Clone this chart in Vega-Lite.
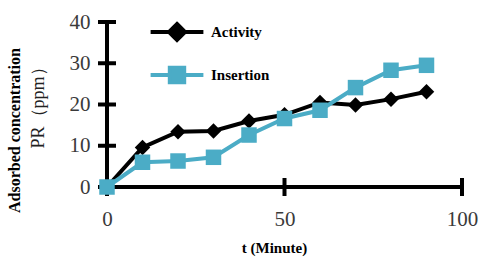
{
  "$schema": "https://vega.github.io/schema/vega-lite/v6.json",
  "autosize": "none",
  "width": 355,
  "height": 165,
  "padding": {"left": 107, "top": 22, "right": 17, "bottom": 70},
  "background": "white",
  "title": {"text": "Adsorbed concentration", "orient": "left", "font": "Liberation Serif", "fontSize": 16, "fontWeight": "bold", "color": "black", "offset": 6, "anchor": "middle", "dx": -26},
  "datasets": {
    "series": [
      {"t": 0, "v": 0, "s": "Activity"},
      {"t": 10, "v": 9.6, "s": "Activity"},
      {"t": 20, "v": 13.4, "s": "Activity"},
      {"t": 30, "v": 13.6, "s": "Activity"},
      {"t": 40, "v": 16.0, "s": "Activity"},
      {"t": 50, "v": 17.5, "s": "Activity"},
      {"t": 60, "v": 20.5, "s": "Activity"},
      {"t": 70, "v": 19.9, "s": "Activity"},
      {"t": 80, "v": 21.3, "s": "Activity"},
      {"t": 90, "v": 23.1, "s": "Activity"},
      {"t": 0, "v": 0, "s": "Insertion"},
      {"t": 10, "v": 6.0, "s": "Insertion"},
      {"t": 20, "v": 6.3, "s": "Insertion"},
      {"t": 30, "v": 7.2, "s": "Insertion"},
      {"t": 40, "v": 12.6, "s": "Insertion"},
      {"t": 50, "v": 16.6, "s": "Insertion"},
      {"t": 60, "v": 18.6, "s": "Insertion"},
      {"t": 70, "v": 24.1, "s": "Insertion"},
      {"t": 80, "v": 28.3, "s": "Insertion"},
      {"t": 90, "v": 29.5, "s": "Insertion"}
    ],
    "frame": [{"t0": 0, "t1": 100, "v0": 0, "v1": 40}],
    "yticks": [{"v": 0}, {"v": 10}, {"v": 20}, {"v": 30}, {"v": 40}],
    "xticks": [{"t": 0}, {"t": 50}, {"t": 100}]
  },
  "layer": [
    {"data": {"name": "frame"}, "mark": {"type": "rule", "strokeWidth": 4, "color": "black", "strokeCap": "butt"},
     "encoding": {"x": {"field": "t0", "type": "quantitative"}, "x2": {"field": "t1"}, "y": {"field": "v0", "type": "quantitative"}}},
    {"data": {"name": "frame"}, "mark": {"type": "rule", "strokeWidth": 4, "color": "black", "strokeCap": "butt"},
     "encoding": {"x": {"field": "t0", "type": "quantitative"}, "y": {"field": "v0", "type": "quantitative"}, "y2": {"field": "v1"}}},
    {"data": {"name": "yticks"}, "mark": {"type": "tick", "orient": "horizontal", "size": 18, "thickness": 4, "color": "black", "opacity": 1},
     "encoding": {"y": {"field": "v", "type": "quantitative"}, "x": {"datum": 0, "type": "quantitative"}}},
    {"data": {"name": "xticks"}, "mark": {"type": "tick", "orient": "vertical", "size": 18, "thickness": 4, "color": "black", "opacity": 1},
     "encoding": {"x": {"field": "t", "type": "quantitative"}, "y": {"datum": 0, "type": "quantitative"}}},
    {"data": {"name": "series"},
     "encoding": {
       "x": {"field": "t", "type": "quantitative"},
       "y": {"field": "v", "type": "quantitative"},
       "color": {"field": "s", "type": "nominal", "scale": {"domain": ["Activity", "Insertion"], "range": ["black", "#4bacc6"]},
         "legend": {
           "title": null, "orient": "none", "legendX": 60, "legendY": 0, "padding": 0,
           "symbolSize": 256, "symbolStrokeWidth": 4, "rowPadding": 11, "labelOffset": 24,
           "labelFont": "Liberation Serif", "labelFontSize": 15, "labelFontWeight": "bold", "labelColor": "black",
           "encode": {"symbols": {
             "enter": {
               "shape": {"signal": "datum.value === 'Activity' ? 'M-3.3,0H3.3M0,-1L1,0L0,1L-1,0Z' : 'M-3.3,0H3.3M-0.9,-0.9H0.9V0.9H-0.9Z'"},
               "stroke": {"signal": "datum.value === 'Activity' ? 'black' : '#4bacc6'"},
               "strokeWidth": {"value": 4}
             },
             "update": {
               "shape": {"signal": "datum.value === 'Activity' ? 'M-3.3,0H3.3M0,-1L1,0L0,1L-1,0Z' : 'M-3.3,0H3.3M-0.9,-0.9H0.9V0.9H-0.9Z'"},
               "stroke": {"signal": "datum.value === 'Activity' ? 'black' : '#4bacc6'"},
               "fill": {"signal": "datum.value === 'Activity' ? 'black' : '#4bacc6'"},
               "strokeWidth": {"value": 4},
               "opacity": {"value": 1}
             }}}
         }}
     },
     "layer": [
       {"mark": {"type": "line", "strokeWidth": 4}},
       {"mark": {"type": "point", "filled": true, "opacity": 1, "size": 240},
        "encoding": {"shape": {"condition": {"test": "datum.s === 'Activity'", "value": "diamond"}, "value": "square"}}}
     ]}
  ],
  "encoding": {
    "x": {"type": "quantitative", "scale": {"domain": [0, 100], "nice": false},
      "axis": {"values": [0, 50, 100], "title": "t (Minute)", "labelPadding": 21, "titlePadding": 11, "labelFlush": false, "titleX": 167, "titleFontSize": 15}},
    "y": {"type": "quantitative", "scale": {"domain": [0, 40], "nice": false},
      "axis": {"values": [0, 10, 20, 30, 40], "title": "PR（ppm）", "labelPadding": 17, "titleFontSize": 18, "titleFontWeight": "normal", "titleColor": "#222", "titlePadding": 22, "titleY": 81, "titleAlign": "center"}}
  },
  "config": {
    "view": {"stroke": null},
    "axis": {"grid": false, "domain": false, "ticks": false,
      "labelFont": "Liberation Serif", "labelFontSize": 21, "labelColor": "#3a3a3a",
      "titleFont": "Liberation Serif", "titleFontWeight": "bold", "titleColor": "black"}
  }
}
